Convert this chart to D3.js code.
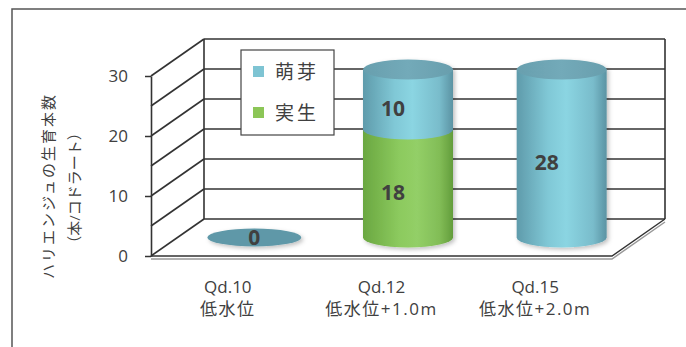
<!DOCTYPE html>
<html>
<head>
<meta charset="utf-8">
<script src="https://cdn.jsdelivr.net/npm/d3@7"></script>
<style>
  body { margin: 0; background: #fff; }
  svg { display: block; }
  text { font-family: "Open Sans", "Noto Sans CJK JP", sans-serif; fill: #404040; }
</style>
</head>
<body>
<script>
// data
const categories = ['Qd.10', 'Qd.12', 'Qd.15'];
const subLabels = ['低水位', '低水位+1.0m', '低水位+2.0m'];
const seedling = [0, 18, 0];   // 実生
const sprout = [0, 10, 28];    // 萌芽
const seriesNames = ['実生', '萌芽'];
const yTicks = [0, 10, 20, 30];
const gridStep = 5;

const W = 686, H = 347;
const depthX = 53, depthY = -37;

const svg = d3.select('body').append('svg')
    .attr('width', W)
    .attr('height', H);

const defs = svg.append('defs');

function grad(id, stops) {
    const g = defs.append('linearGradient').attr('id', id)
        .attr('x1', '0%').attr('x2', '100%').attr('y1', '0%').attr('y2', '0%');
    stops.forEach(s => g.append('stop').attr('offset', s[0]).attr('stop-color', s[1]));
}
grad('blueBody', [['0%', '#5f9bab'], ['35%', '#80c8d6'], ['55%', '#8bd5e2'], ['85%', '#79bccb'], ['100%', '#5b93a3']]);
grad('greenBody', [['0%', '#6aa741'], ['40%', '#8cca5e'], ['60%', '#93cf67'], ['85%', '#82bd57'], ['100%', '#639d3b']]);
grad('blueTop', [['0%', '#689fae'], ['50%', '#73aab9'], ['100%', '#689ead']]);

defs.append('filter').attr('id', 'shadow')
    .attr('x', '-20%').attr('y', '-20%').attr('width', '140%').attr('height', '140%')
    .append('feDropShadow')
    .attr('dx', 2).attr('dy', 2).attr('stdDeviation', 2)
    .attr('flood-color', '#000').attr('flood-opacity', 0.25);

// outer frame
svg.append('path')
    .attr('d', `M12,${H}V9H${W}`)
    .attr('fill', 'none')
    .attr('stroke', '#555')
    .attr('stroke-width', 1.5);

const x = d3.scaleBand()
    .domain(categories)
    .range([151, 612]);

const y = d3.scaleLinear()
    .domain([0, 30])
    .range([256, 76]);

const gridVals = d3.range(0, 30 + gridStep, gridStep);
const x0 = x.range()[0], x1 = x.range()[1];

// floor
const floor = svg.append('g');
floor.append('path')
    .attr('d', `M${x0},${y(0) + 3}H${x1}L${x1 + depthX},${y(0) + depthY + 3}`)
    .attr('fill', 'none').attr('stroke', '#999').attr('stroke-width', 1.5);
floor.append('path')
    .attr('d', `M${x0},${y(0)}H${x1}L${x1 + depthX},${y(0) + depthY}`)
    .attr('fill', 'none').attr('stroke', '#333').attr('stroke-width', 1.5);

// side wall and back wall
const walls = svg.append('g')
    .attr('stroke', '#333')
    .attr('stroke-width', 1.6)
    .attr('fill', 'none');

walls.selectAll('.side')
    .data(gridVals)
    .join('line')
    .attr('x1', x0).attr('y1', d => y(d))
    .attr('x2', x0 + depthX).attr('y2', d => y(d) + depthY);

walls.selectAll('.back')
    .data(gridVals)
    .join('line')
    .attr('x1', x0 + depthX).attr('y1', d => y(d) + depthY)
    .attr('x2', x1 + depthX).attr('y2', d => y(d) + depthY);

walls.append('line')
    .attr('x1', x0 + depthX).attr('y1', y(30) + depthY)
    .attr('x2', x0 + depthX).attr('y2', y(0) + depthY);
walls.append('line')
    .attr('x1', x1 + depthX).attr('y1', y(30) + depthY)
    .attr('x2', x1 + depthX).attr('y2', y(0) + depthY);

// y axis
const yAxis = svg.append('g')
    .attr('transform', `translate(${x0},0)`)
    .call(d3.axisLeft(y).tickValues(yTicks).tickSize(6).tickSizeOuter(0).tickPadding(17));
yAxis.select('.domain').attr('stroke', '#333').attr('stroke-width', 1.6);
yAxis.selectAll('.tick line').attr('stroke', '#333').attr('stroke-width', 1.5);
yAxis.selectAll('.tick text')
    .attr('font-size', 17)
    .attr('font-family', '"Open Sans", sans-serif')
    .attr('fill', '#404040');

// legend
const legend = svg.append('g').attr('transform', 'translate(241,50)');
legend.append('rect')
    .attr('width', 93).attr('height', 85)
    .attr('fill', '#fff').attr('stroke', '#444').attr('stroke-width', 1.2);
const legendItems = [
    { name: '萌芽', color: '#7ec4d3' },
    { name: '実生', color: '#8cc657' }
];
legendItems.forEach((d, i) => {
    const g = legend.append('g').attr('transform', `translate(12,${22 + i * 41})`);
    g.append('rect').attr('x', 0).attr('y', -6).attr('width', 11).attr('height', 11).attr('fill', d.color);
    g.append('text')
        .attr('x', 22).attr('y', 0).attr('dy', '0.35em')
        .attr('font-size', 19)
        .attr('letter-spacing', 3)
        .attr('fill', '#333')
        .text(d.name);
});

// stacked cylinders
const table = categories.map((c, i) => ({ cat: c, '実生': seedling[i], '萌芽': sprout[i] }));
const stack = d3.stack().keys(seriesNames)(table);

const rx = 45, ry = 10;
const cx = c => x(c) + x.bandwidth() / 2 + depthX / 2;
const cy = v => y(v) + depthY / 2;

const bars = svg.append('g').attr('filter', 'url(#shadow)');
const fills = { '実生': 'url(#greenBody)', '萌芽': 'url(#blueBody)' };

stack.forEach(s => {
    s.forEach((d, i) => {
        if (d[1] - d[0] <= 0) return;
        const c = categories[i];
        const xc = cx(c), yb = cy(d[0]), yt = cy(d[1]);
        bars.append('path')
            .attr('d', `M${xc - rx},${yt}V${yb}A${rx},${ry} 0 0 0 ${xc + rx},${yb}V${yt}Z`)
            .attr('fill', fills[s.key]);
    });
});

// top caps
table.forEach(d => {
    const total = d['実生'] + d['萌芽'];
    const top = d['萌芽'] > 0 || total === 0 ? 'url(#blueTop)' : '#7fb35a';
    bars.append('ellipse')
        .attr('cx', cx(d.cat))
        .attr('cy', cy(total))
        .attr('rx', total === 0 ? rx + 2 : rx)
        .attr('ry', total === 0 ? 9 : ry)
        .attr('fill', total === 0 ? '#5f98a8' : top);
});

// data labels
const labels = svg.append('g')
    .attr('font-size', 21)
    .attr('font-weight', 'bold')
    .attr('text-anchor', 'middle');

table.forEach(d => {
    const total = d['実生'] + d['萌芽'];
    if (total === 0) {
        labels.append('text')
            .attr('x', cx(d.cat)).attr('y', cy(0)).attr('dy', '0.35em')
            .attr('fill', '#222').text('0');
    }
});
stack.forEach(s => {
    s.forEach((d, i) => {
        if (d[1] - d[0] <= 0) return;
        const mid = (d[0] + d[1]) / 2;
        labels.append('text')
            .attr('x', cx(categories[i]) - 15)
            .attr('y', cy(mid) + 9)
            .attr('dy', '0.35em')
            .attr('fill', '#222')
            .text(d[1] - d[0]);
    });
});

// x labels
const xl = svg.append('g')
    .attr('text-anchor', 'middle')
    .attr('font-size', 17);
categories.forEach((c, i) => {
    const xc = x(c) + x.bandwidth() / 2;
    xl.append('text').attr('x', xc).attr('y', 287).attr('dy', '0.35em').text(c);
    xl.append('text').attr('x', xc).attr('y', 309).attr('dy', '0.35em')
        .attr('letter-spacing', 1.5).text(subLabels[i]);
});

// y title
const yt = svg.append('g').attr('font-size', 15).attr('text-anchor', 'middle');
yt.append('text')
    .attr('transform', 'translate(49,186) rotate(-90)')
    .attr('dy', '0.35em')
    .attr('letter-spacing', 2)
    .text('ハリエンジュの生育本数');
yt.append('text')
    .attr('transform', 'translate(75,188) rotate(-90)')
    .attr('dy', '0.35em')
    .text('（本/コドラート）');
</script>
</body>
</html>
